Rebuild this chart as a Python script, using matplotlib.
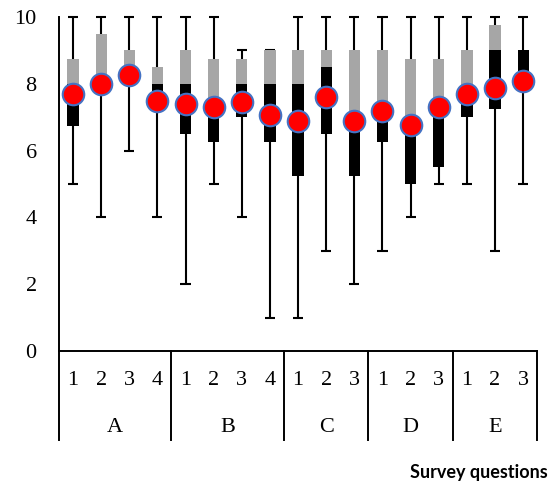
import matplotlib
matplotlib.use("Agg")
from matplotlib import pyplot as plt

####################### Data ########################

groups = ["A", "B", "C", "D", "E"]
group_sizes = [4, 4, 3, 3, 3]
questions = ["1", "2", "3", "4", "1", "2", "3", "4", "1", "2", "3", "1", "2", "3", "1", "2", "3"]

whisker_low = [5, 4, 6, 4, 2, 5, 4, 1, 1, 3, 2, 3, 4, 5, 5, 3, 5]
q1 = [6.75, 8, 8, 7.5, 6.5, 6.25, 7, 6.25, 5.25, 6.5, 5.25, 6.25, 5, 5.5, 7, 7.25, 8]
median = [8, 8, 8, 8, 8, 7.5, 8, 8, 8, 8.5, 7, 7, 7, 7.5, 7.75, 9, 9]
q3 = [8.75, 9.5, 9, 8.5, 9, 8.75, 8.75, 9, 9, 9, 9, 9, 8.75, 8.75, 9, 9.75, 9]
whisker_high = [10, 10, 10, 10, 10, 10, 9, 9, 10, 10, 10, 10, 10, 10, 10, 10, 10]
mean = [7.68, 8.0, 8.26, 7.47, 7.38, 7.29, 7.46, 7.07, 6.9, 7.6, 6.9, 7.17, 6.77, 7.3, 7.69, 7.88, 8.08]

####################### Plot ########################

fig = plt.figure(figsize=(5.51, 4.86), dpi=100)
ax = fig.add_axes([0.107, 0.278, 0.868, 0.687])

x = list(range(len(questions)))
box_w = 0.4
cap_w = 0.36

ax.vlines(x, whisker_low, whisker_high, color="black", linewidth=1.5, zorder=1, clip_on=False)
ax.hlines(whisker_low, [i - cap_w / 2 for i in x], [i + cap_w / 2 for i in x],
          color="black", linewidth=1.5, zorder=1, clip_on=False)
ax.hlines(whisker_high, [i - cap_w / 2 for i in x], [i + cap_w / 2 for i in x],
          color="black", linewidth=1.5, zorder=1, clip_on=False)

lower = [m - a for m, a in zip(median, q1)]
upper = [b - m for b, m in zip(q3, median)]
ax.bar(x, lower, bottom=q1, width=box_w, color="black", zorder=2)
ax.bar(x, upper, bottom=median, width=box_w, color="#a6a6a6", zorder=2)

ax.plot(x, mean, linestyle="none", marker="o", markersize=15.5,
        markerfacecolor="#ff0000", markeredgecolor="#4472c4", markeredgewidth=1.5,
        zorder=3, clip_on=False)

ax.set_xlim(-0.5, len(questions) - 0.5)
ax.set_ylim(0, 10)
ax.set_yticks([0, 2, 4, 6, 8, 10])
ax.set_xticks([])
ax.tick_params(axis="y", length=0, pad=16, labelsize=16)
for lab in ax.get_yticklabels():
    lab.set_fontfamily("Liberation Serif")

for side in ["top", "right"]:
    ax.spines[side].set_visible(False)
for side in ["left", "bottom"]:
    ax.spines[side].set_linewidth(1.4)

# grouped category axis below the plot
trans = ax.get_xaxis_transform()
for i, q in enumerate(questions):
    ax.text(i, -0.09, q, transform=trans, ha="center", va="center",
            fontsize=16, family="Liberation Serif")

start = 0
edges = [-0.5]
for g, n in zip(groups, group_sizes):
    ax.text(start + (n - 1) / 2, -0.228, g, transform=trans, ha="center", va="center",
            fontsize=16, family="Liberation Serif")
    start += n
    edges.append(start - 0.5)

for e in edges:
    ax.plot([e, e], [0, -0.266], transform=trans, color="black", linewidth=1.4, clip_on=False)

fig.text(0.995, 0.027, "Survey questions", ha="right", va="center",
         fontsize=13, fontweight="bold", family="Lato")

fig.savefig("out.png", dpi=100)
